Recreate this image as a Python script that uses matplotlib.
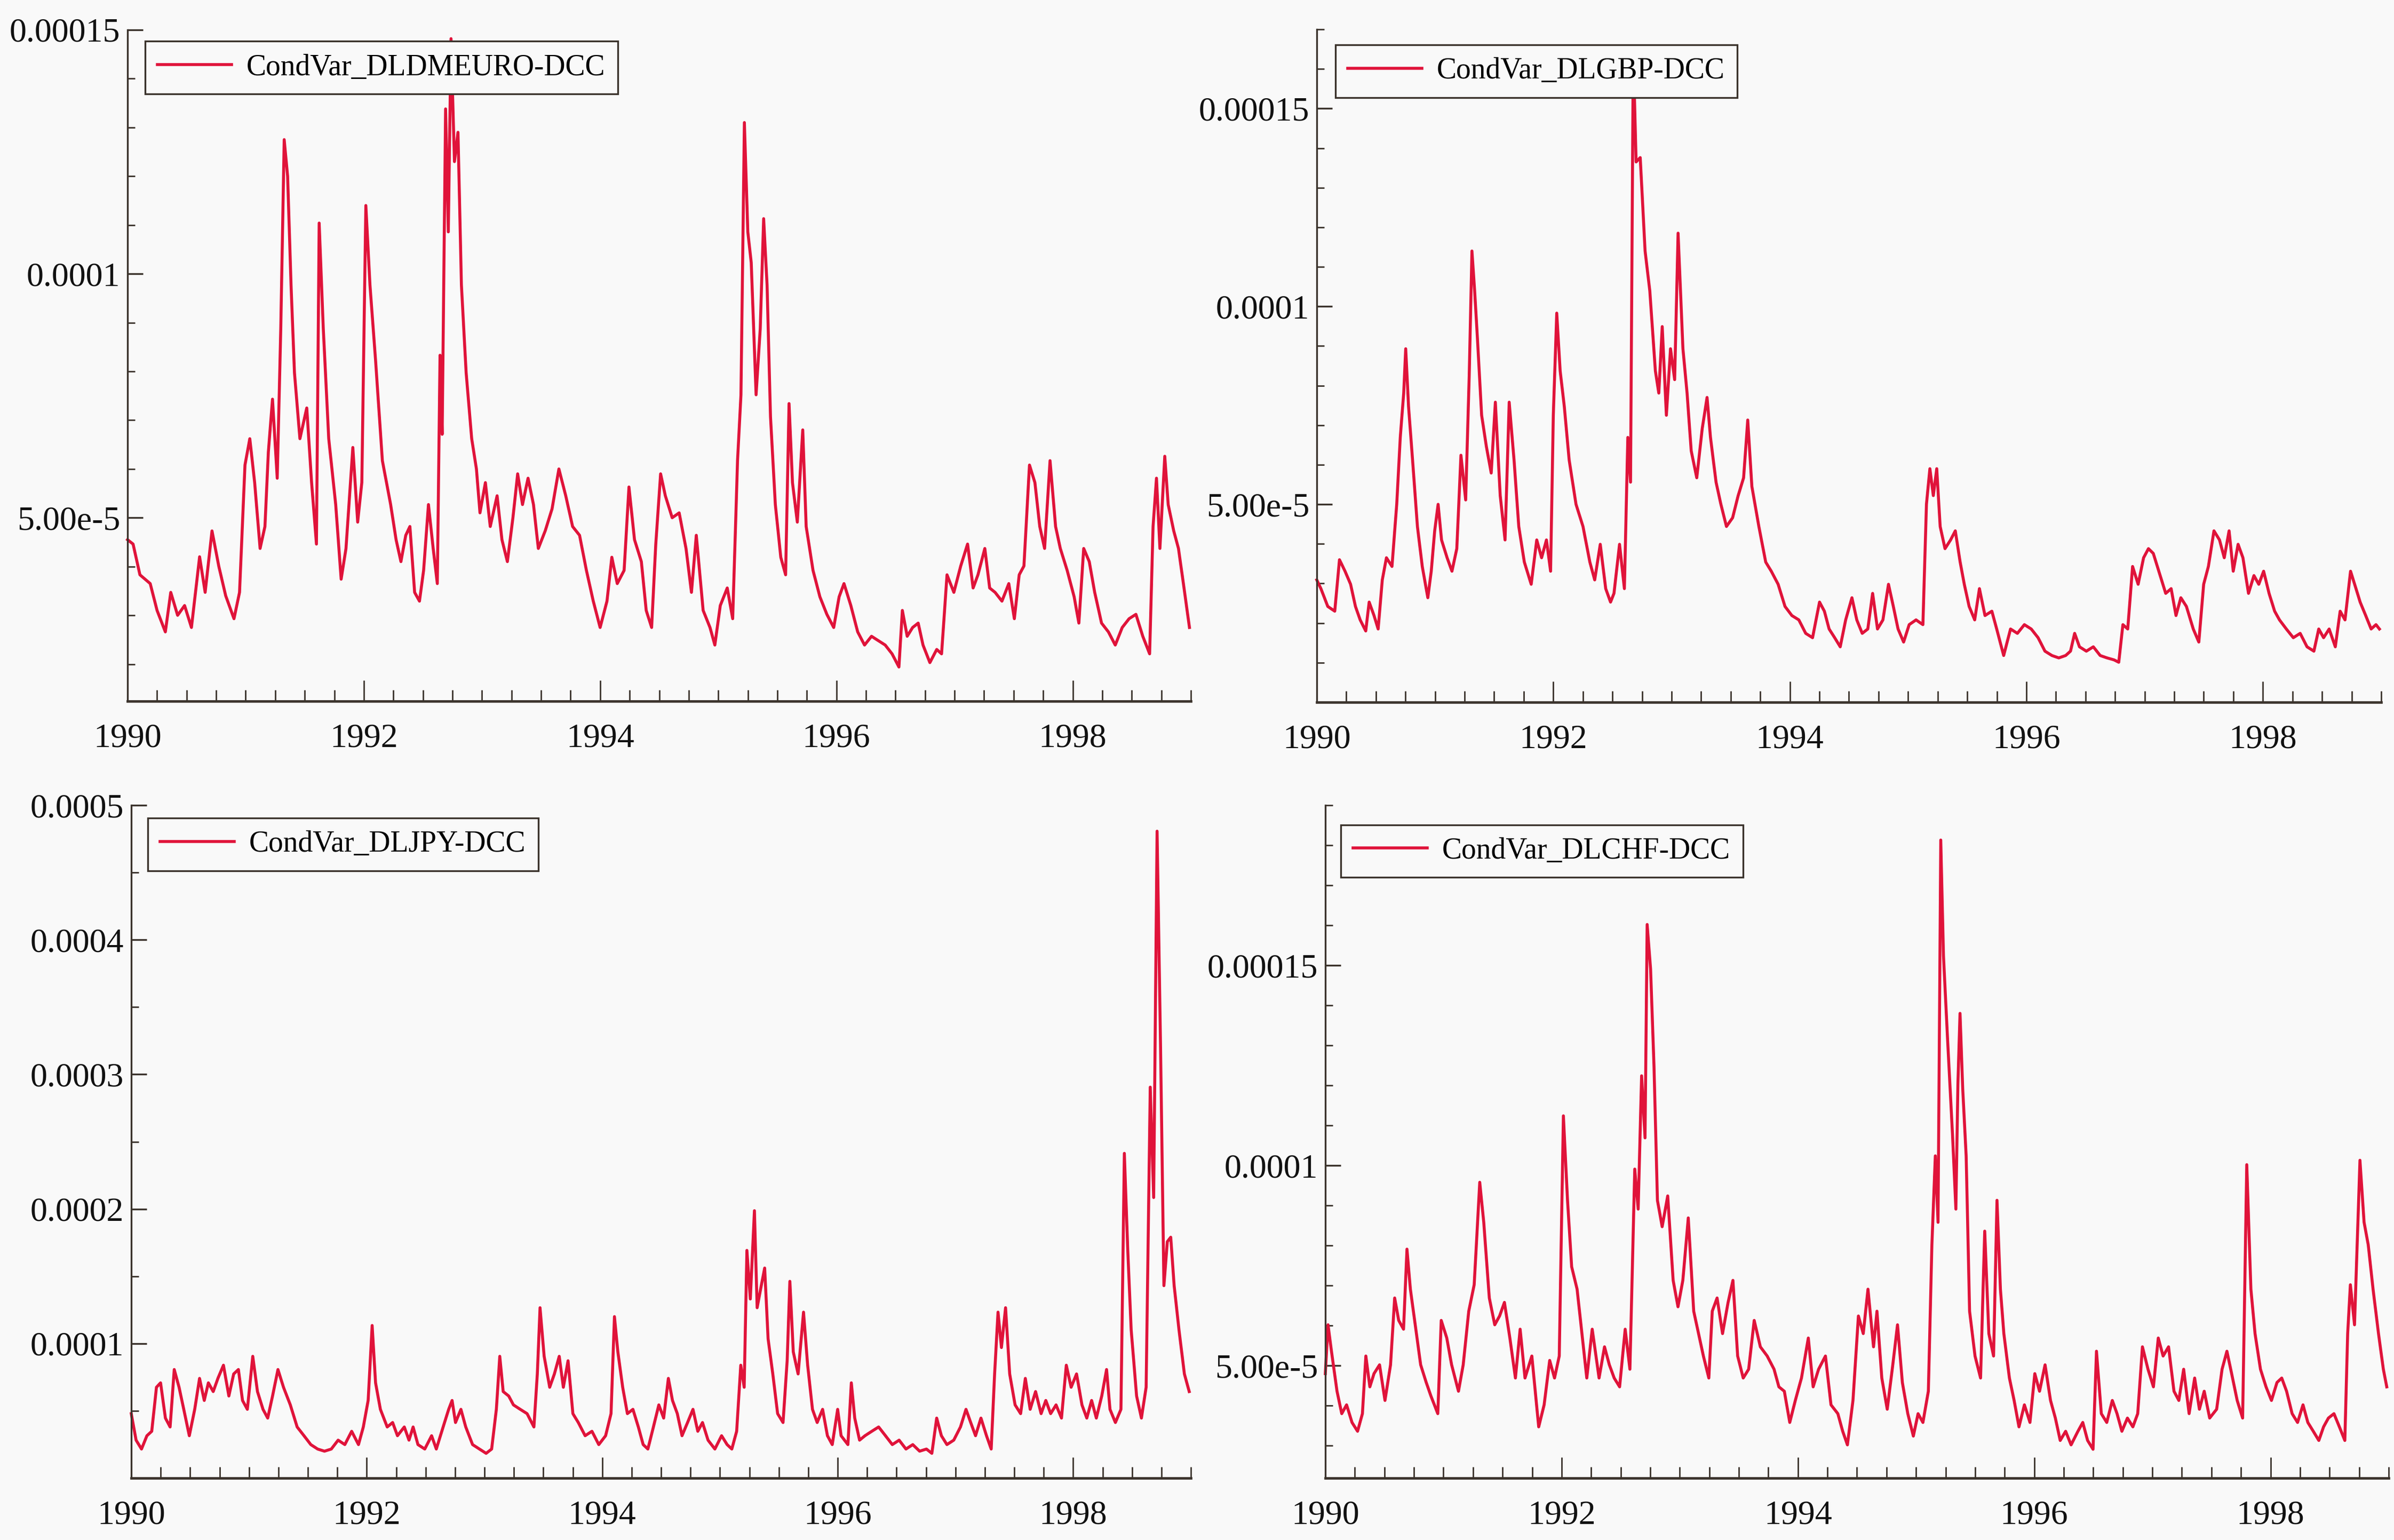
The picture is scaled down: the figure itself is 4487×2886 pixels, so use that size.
import numpy as np
import matplotlib
matplotlib.use("Agg")
import matplotlib.pyplot as plt
from matplotlib.ticker import MultipleLocator

plt.rcParams['font.family'] = ['Liberation Serif', 'DejaVu Serif']

# ---------------- data (time offsets in years from 1990, values in 1e-5) -------------
t_dem = [0.000, 0.047, 0.105, 0.192, 0.250, 0.320, 0.366, 0.424, 0.483, 0.541, 0.610, 0.657, 0.715, 0.773,
         0.831, 0.901, 0.948, 0.994, 1.035, 1.076, 1.122, 1.163, 1.192, 1.227, 1.267, 1.297, 1.326, 1.355,
         1.384, 1.413, 1.459, 1.517, 1.558, 1.599, 1.622, 1.657, 1.703, 1.762, 1.808, 1.849, 1.907, 1.948,
         1.983, 2.017, 2.052, 2.099, 2.157, 2.227, 2.273, 2.314, 2.355, 2.390, 2.430, 2.471, 2.506, 2.547,
         2.587, 2.622, 2.645, 2.663, 2.692, 2.715, 2.738, 2.767, 2.797, 2.826, 2.866, 2.913, 2.953, 2.983,
         3.029, 3.070, 3.128, 3.169, 3.215, 3.262, 3.302, 3.343, 3.390, 3.436, 3.477, 3.535, 3.593, 3.651,
         3.709, 3.767, 3.826, 3.884, 3.942, 4.000, 4.058, 4.099, 4.145, 4.203, 4.244, 4.291, 4.349, 4.390,
         4.436, 4.471, 4.512, 4.552, 4.610, 4.669, 4.727, 4.773, 4.814, 4.872, 4.930, 4.971, 5.017, 5.076,
         5.122, 5.163, 5.192, 5.221, 5.250, 5.279, 5.320, 5.355, 5.384, 5.413, 5.442, 5.483, 5.529, 5.570,
         5.599, 5.628, 5.669, 5.715, 5.744, 5.802, 5.860, 5.919, 5.977, 6.023, 6.064, 6.122, 6.180, 6.238,
         6.297, 6.355, 6.413, 6.471, 6.529, 6.558, 6.599, 6.645, 6.692, 6.733, 6.791, 6.849, 6.890, 6.936,
         6.994, 7.052, 7.110, 7.157, 7.198, 7.256, 7.297, 7.343, 7.401, 7.459, 7.506, 7.547, 7.587, 7.634,
         7.680, 7.721, 7.762, 7.808, 7.855, 7.895, 7.953, 8.012, 8.052, 8.093, 8.140, 8.186, 8.244, 8.302,
         8.360, 8.419, 8.477, 8.535, 8.593, 8.651, 8.680, 8.709, 8.738, 8.779, 8.808, 8.855, 8.895, 8.942,
         8.988]
v_dem = [4.55, 4.46, 3.83, 3.65, 3.10, 2.66, 3.47, 3.00, 3.20, 2.75, 4.20, 3.47, 4.73, 4.00,
         3.40, 2.93, 3.47, 6.08, 6.62, 5.72, 4.37, 4.82, 6.35, 7.43, 5.81, 8.87, 12.75, 12.00,
         9.77, 7.97, 6.62, 7.25, 5.72, 4.46, 11.04, 8.87, 6.62, 5.27, 3.74, 4.37, 6.44, 4.91,
         5.72, 11.40, 9.77, 8.24, 6.17, 5.27, 4.55, 4.10, 4.64, 4.82, 3.47, 3.29, 3.92, 5.27,
         4.37, 3.65, 8.33, 6.71, 13.38, 10.86, 14.82, 12.30, 12.90, 9.77, 7.97, 6.62, 6.00, 5.10,
         5.72, 4.82, 5.45, 4.55, 4.10, 5.00, 5.90, 5.27, 5.81, 5.27, 4.37, 4.73, 5.18, 6.00,
         5.45, 4.82, 4.64, 3.92, 3.29, 2.75, 3.29, 4.19, 3.65, 3.92, 5.63, 4.55, 4.10, 3.10,
         2.75, 4.46, 5.90, 5.45, 5.00, 5.10, 4.37, 3.47, 4.64, 3.10, 2.75, 2.39, 3.20, 3.56,
         2.93, 6.17, 7.52, 13.10, 10.86, 10.23, 7.52, 8.87, 11.13, 9.77, 7.07, 5.27, 4.19, 3.83,
         7.34, 5.72, 4.91, 6.80, 4.82, 3.92, 3.38, 3.02, 2.75, 3.38, 3.65, 3.20, 2.66, 2.39,
         2.57, 2.48, 2.39, 2.21, 1.94, 3.10, 2.57, 2.75, 2.84, 2.39, 2.03, 2.30, 2.21, 3.83,
         3.47, 4.01, 4.46, 3.56, 3.83, 4.37, 3.56, 3.47, 3.29, 3.65, 2.93, 3.83, 4.01, 6.08,
         5.72, 4.82, 4.37, 6.17, 4.82, 4.37, 3.92, 3.38, 2.84, 4.37, 4.10, 3.47, 2.84, 2.66,
         2.39, 2.75, 2.93, 3.02, 2.57, 2.21, 4.82, 5.81, 4.37, 6.26, 5.27, 4.73, 4.37, 3.56,
         2.75]

t_gbp = [0.000, 0.035, 0.093, 0.152, 0.192, 0.239, 0.286, 0.327, 0.367, 0.414, 0.443, 0.484, 0.519, 0.554,
         0.589, 0.636, 0.676, 0.706, 0.735, 0.752, 0.776, 0.810, 0.851, 0.892, 0.939, 0.968, 0.997, 1.026,
         1.055, 1.102, 1.143, 1.184, 1.219, 1.259, 1.289, 1.312, 1.335, 1.359, 1.394, 1.434, 1.475, 1.510,
         1.551, 1.592, 1.627, 1.668, 1.708, 1.755, 1.813, 1.860, 1.901, 1.942, 1.977, 2.000, 2.029, 2.058,
         2.093, 2.134, 2.192, 2.251, 2.309, 2.350, 2.397, 2.443, 2.484, 2.513, 2.560, 2.601, 2.630, 2.653,
         2.676, 2.700, 2.735, 2.776, 2.816, 2.863, 2.892, 2.921, 2.956, 2.991, 3.026, 3.055, 3.096, 3.131,
         3.166, 3.213, 3.259, 3.300, 3.329, 3.376, 3.417, 3.464, 3.516, 3.563, 3.609, 3.644, 3.679, 3.738,
         3.796, 3.843, 3.901, 3.959, 4.017, 4.076, 4.134, 4.192, 4.251, 4.292, 4.332, 4.379, 4.426, 4.472,
         4.525, 4.566, 4.612, 4.659, 4.700, 4.741, 4.787, 4.834, 4.875, 4.915, 4.962, 5.009, 5.067, 5.125,
         5.155, 5.184, 5.213, 5.242, 5.271, 5.312, 5.359, 5.399, 5.440, 5.475, 5.516, 5.563, 5.603, 5.650,
         5.708, 5.749, 5.808, 5.866, 5.924, 5.983, 6.041, 6.099, 6.157, 6.216, 6.274, 6.332, 6.373, 6.408,
         6.449, 6.507, 6.566, 6.624, 6.682, 6.741, 6.781, 6.816, 6.857, 6.898, 6.945, 6.991, 7.032, 7.073,
         7.120, 7.178, 7.224, 7.265, 7.306, 7.353, 7.411, 7.458, 7.499, 7.539, 7.586, 7.633, 7.673, 7.714,
         7.749, 7.790, 7.831, 7.878, 7.924, 7.965, 8.006, 8.052, 8.099, 8.140, 8.198, 8.257, 8.315, 8.373,
         8.431, 8.472, 8.513, 8.560, 8.612, 8.653, 8.694, 8.741, 8.787, 8.822, 8.869, 8.915, 8.956, 8.985]
v_gbp = [3.09, 2.87, 2.42, 2.30, 3.60, 3.31, 2.98, 2.42, 2.08, 1.80, 2.53, 2.19, 1.85, 3.09,
         3.65, 3.43, 5.00, 6.69, 7.81, 8.93, 7.47, 6.12, 4.44, 3.43, 2.64, 3.31, 4.33, 5.00,
         4.10, 3.65, 3.31, 3.88, 6.24, 5.11, 8.26, 11.40, 10.39, 9.16, 7.25, 6.46, 5.79, 7.58,
         5.22, 4.10, 7.58, 6.12, 4.44, 3.54, 2.98, 4.10, 3.65, 4.10, 3.31, 7.25, 9.83, 8.37,
         7.47, 6.12, 5.00, 4.44, 3.54, 3.09, 3.99, 2.87, 2.53, 2.75, 3.99, 2.87, 6.69, 5.56,
         16.46, 13.65, 13.76, 11.40, 10.39, 8.37, 7.81, 9.49, 7.25, 8.93, 8.15, 11.85, 8.93, 7.81,
         6.35, 5.67, 6.91, 7.70, 6.69, 5.56, 5.00, 4.44, 4.66, 5.22, 5.67, 7.13, 5.45, 4.44,
         3.54, 3.31, 2.98, 2.42, 2.19, 2.08, 1.74, 1.63, 2.53, 2.30, 1.85, 1.63, 1.40, 2.08,
         2.64, 2.08, 1.74, 1.85, 2.75, 1.85, 2.08, 2.98, 2.42, 1.85, 1.52, 1.96, 2.08, 1.96,
         5.00, 5.90, 5.22, 5.90, 4.44, 3.88, 4.10, 4.33, 3.54, 2.98, 2.42, 2.08, 2.87, 2.19,
         2.30, 1.85, 1.18, 1.85, 1.74, 1.96, 1.85, 1.63, 1.29, 1.18, 1.12, 1.18, 1.29, 1.74,
         1.40, 1.29, 1.40, 1.18, 1.12, 1.07, 1.01, 1.96, 1.85, 3.43, 2.98, 3.65, 3.88, 3.76,
         3.31, 2.75, 2.87, 2.19, 2.64, 2.42, 1.85, 1.52, 2.98, 3.43, 4.33, 4.10, 3.65, 4.33,
         3.31, 3.99, 3.65, 2.75, 3.20, 2.98, 3.31, 2.75, 2.30, 2.08, 1.85, 1.63, 1.74, 1.40,
         1.29, 1.85, 1.63, 1.85, 1.40, 2.30, 2.08, 3.31, 2.87, 2.53, 2.19, 1.85, 1.96, 1.85]

t_jpy = [0.000, 0.041, 0.087, 0.133, 0.174, 0.214, 0.249, 0.290, 0.330, 0.365, 0.406, 0.446, 0.493, 0.539,
         0.580, 0.620, 0.655, 0.696, 0.736, 0.783, 0.829, 0.870, 0.910, 0.945, 0.986, 1.032, 1.072, 1.119,
         1.159, 1.200, 1.246, 1.293, 1.351, 1.409, 1.467, 1.525, 1.583, 1.641, 1.699, 1.757, 1.814, 1.872,
         1.930, 1.971, 2.012, 2.046, 2.075, 2.116, 2.174, 2.220, 2.261, 2.319, 2.359, 2.394, 2.435, 2.493,
         2.551, 2.591, 2.649, 2.696, 2.725, 2.754, 2.800, 2.841, 2.899, 2.957, 3.014, 3.061, 3.101, 3.130,
         3.159, 3.206, 3.246, 3.304, 3.362, 3.420, 3.449, 3.472, 3.507, 3.554, 3.594, 3.635, 3.670, 3.710,
         3.751, 3.797, 3.855, 3.913, 3.971, 4.029, 4.075, 4.104, 4.133, 4.174, 4.214, 4.261, 4.307, 4.348,
         4.388, 4.435, 4.481, 4.522, 4.562, 4.597, 4.638, 4.678, 4.725, 4.771, 4.812, 4.852, 4.899, 4.957,
         5.014, 5.061, 5.101, 5.142, 5.177, 5.206, 5.229, 5.258, 5.293, 5.316, 5.351, 5.380, 5.409, 5.449,
         5.490, 5.536, 5.571, 5.594, 5.623, 5.664, 5.710, 5.745, 5.786, 5.826, 5.872, 5.913, 5.954, 6.000,
         6.029, 6.087, 6.116, 6.145, 6.186, 6.232, 6.290, 6.348, 6.406, 6.464, 6.522, 6.580, 6.638, 6.696,
         6.754, 6.800, 6.841, 6.881, 6.928, 6.986, 7.043, 7.090, 7.130, 7.171, 7.217, 7.264, 7.304, 7.333,
         7.362, 7.391, 7.426, 7.461, 7.507, 7.554, 7.594, 7.635, 7.681, 7.728, 7.768, 7.809, 7.855, 7.901,
         7.942, 7.983, 8.029, 8.075, 8.116, 8.157, 8.197, 8.243, 8.284, 8.313, 8.359, 8.406, 8.435, 8.464,
         8.493, 8.539, 8.580, 8.620, 8.655, 8.684, 8.713, 8.742, 8.771, 8.800, 8.829, 8.858, 8.899, 8.945,
         8.986]
v_jpy = [4.79, 2.82, 2.16, 3.15, 3.48, 6.75, 7.08, 4.46, 3.80, 8.07, 6.75, 5.11, 3.15, 5.11,
         7.41, 5.77, 7.08, 6.43, 7.41, 8.39, 6.10, 7.74, 8.07, 5.77, 5.11, 9.05, 6.43, 5.11,
         4.46, 6.10, 8.07, 6.75, 5.44, 3.80, 3.15, 2.49, 2.16, 2.00, 2.16, 2.82, 2.49, 3.48,
         2.49, 3.80, 5.77, 11.34, 7.08, 5.11, 3.80, 4.13, 3.15, 3.80, 2.82, 3.80, 2.49, 2.16,
         3.15, 2.16, 3.80, 5.11, 5.77, 4.13, 5.11, 3.80, 2.49, 2.16, 1.84, 2.16, 5.11, 9.05,
         6.43, 6.10, 5.44, 5.11, 4.79, 3.80, 7.74, 12.66, 9.05, 6.75, 7.74, 9.05, 6.75, 8.72,
         4.79, 4.13, 3.15, 3.48, 2.49, 3.15, 4.79, 12.00, 9.38, 6.75, 4.79, 5.11, 3.80, 2.49,
         2.16, 3.80, 5.44, 4.46, 7.41, 5.77, 4.79, 3.15, 4.13, 5.11, 3.48, 4.13, 2.82, 2.16,
         3.15, 2.49, 2.16, 3.48, 8.39, 6.75, 16.92, 13.31, 19.87, 12.66, 14.30, 15.61, 10.36, 7.74,
         4.79, 4.13, 8.72, 14.62, 9.38, 7.74, 12.33, 8.39, 5.11, 4.13, 5.11, 3.15, 2.49, 5.11,
         3.15, 2.49, 7.08, 4.46, 2.82, 3.15, 3.48, 3.80, 3.15, 2.49, 2.82, 2.16, 2.49, 2.00,
         2.16, 1.84, 4.46, 3.15, 2.49, 2.82, 3.80, 5.11, 4.13, 3.15, 4.46, 3.15, 2.16, 7.74,
         12.33, 9.70, 12.66, 7.74, 5.44, 4.79, 7.41, 5.11, 6.43, 4.79, 5.77, 4.79, 5.44, 4.46,
         8.39, 6.75, 7.74, 5.44, 4.46, 5.77, 4.46, 6.10, 8.07, 5.11, 4.13, 5.11, 24.13, 16.92,
         11.02, 6.10, 4.46, 6.75, 29.05, 20.85, 48.07, 32.33, 14.30, 17.57, 17.90, 14.30, 11.02, 7.74,
         6.43]

t_chf = [0.000, 0.023, 0.052, 0.099, 0.139, 0.180, 0.226, 0.273, 0.314, 0.343, 0.377, 0.412, 0.459, 0.505,
         0.552, 0.587, 0.621, 0.662, 0.691, 0.720, 0.761, 0.807, 0.854, 0.894, 0.952, 0.981, 1.028, 1.069,
         1.127, 1.167, 1.214, 1.260, 1.307, 1.341, 1.388, 1.434, 1.475, 1.516, 1.562, 1.609, 1.649, 1.690,
         1.748, 1.806, 1.852, 1.899, 1.940, 1.980, 2.015, 2.050, 2.085, 2.131, 2.172, 2.213, 2.259, 2.317,
         2.363, 2.404, 2.445, 2.491, 2.538, 2.578, 2.619, 2.648, 2.677, 2.706, 2.724, 2.753, 2.782, 2.811,
         2.851, 2.898, 2.944, 2.985, 3.026, 3.072, 3.118, 3.159, 3.200, 3.246, 3.275, 3.316, 3.362, 3.409,
         3.450, 3.490, 3.537, 3.583, 3.630, 3.682, 3.740, 3.798, 3.839, 3.885, 3.931, 3.978, 4.030, 4.088,
         4.129, 4.175, 4.233, 4.280, 4.338, 4.379, 4.419, 4.466, 4.512, 4.553, 4.593, 4.640, 4.669, 4.710,
         4.756, 4.803, 4.843, 4.884, 4.930, 4.977, 5.017, 5.058, 5.104, 5.134, 5.163, 5.186, 5.209, 5.232,
         5.267, 5.308, 5.337, 5.354, 5.372, 5.395, 5.424, 5.453, 5.499, 5.546, 5.581, 5.616, 5.656, 5.685,
         5.714, 5.743, 5.790, 5.830, 5.871, 5.917, 5.964, 6.005, 6.045, 6.092, 6.138, 6.179, 6.220, 6.266,
         6.312, 6.370, 6.411, 6.452, 6.498, 6.527, 6.568, 6.614, 6.661, 6.701, 6.742, 6.789, 6.835, 6.876,
         6.916, 6.963, 7.009, 7.050, 7.091, 7.137, 7.183, 7.224, 7.265, 7.311, 7.358, 7.398, 7.439, 7.485,
         7.544, 7.590, 7.631, 7.671, 7.718, 7.764, 7.799, 7.834, 7.869, 7.915, 7.962, 8.008, 8.055, 8.095,
         8.136, 8.183, 8.229, 8.275, 8.316, 8.362, 8.409, 8.449, 8.490, 8.537, 8.583, 8.629, 8.653, 8.676,
         8.711, 8.757, 8.792, 8.827, 8.868, 8.914, 8.955, 8.984]
v_chf = [4.80, 6.02, 5.36, 4.36, 3.80, 4.02, 3.58, 3.36, 3.80, 5.24, 4.47, 4.80, 5.02, 4.13,
         5.02, 6.69, 6.13, 5.91, 7.91, 6.91, 6.02, 5.02, 4.58, 4.24, 3.80, 6.13, 5.69, 5.02,
         4.36, 5.02, 6.36, 7.02, 9.58, 8.58, 6.69, 6.02, 6.24, 6.58, 5.69, 4.69, 5.91, 4.69,
         5.24, 3.47, 4.02, 5.13, 4.69, 5.24, 11.24, 9.13, 7.47, 6.91, 5.80, 4.69, 5.91, 4.69,
         5.47, 5.02, 4.69, 4.47, 5.91, 4.91, 9.91, 8.91, 12.24, 10.69, 16.02, 14.91, 12.47, 9.13,
         8.47, 9.24, 7.13, 6.47, 7.13, 8.69, 6.36, 5.80, 5.24, 4.69, 6.36, 6.69, 5.80, 6.58,
         7.13, 5.24, 4.69, 4.91, 6.13, 5.47, 5.24, 4.91, 4.47, 4.36, 3.58, 4.13, 4.69, 5.69,
         4.47, 4.91, 5.24, 4.02, 3.80, 3.36, 3.02, 4.13, 6.24, 5.80, 6.91, 5.47, 6.36, 4.69,
         3.91, 5.02, 6.02, 4.58, 3.80, 3.24, 3.80, 3.58, 4.36, 8.02, 10.24, 8.58, 18.13, 15.24,
         13.13, 10.80, 8.91, 12.02, 13.80, 11.91, 10.24, 6.36, 5.24, 4.69, 8.36, 5.80, 5.24, 9.13,
         6.91, 5.80, 4.69, 4.13, 3.47, 4.02, 3.58, 4.80, 4.36, 5.02, 4.13, 3.69, 3.13, 3.36,
         3.02, 3.36, 3.58, 3.13, 2.91, 5.36, 3.80, 3.58, 4.13, 3.80, 3.36, 3.69, 3.47, 3.80,
         5.47, 4.91, 4.47, 5.69, 5.24, 5.47, 4.36, 4.13, 4.91, 3.80, 4.69, 3.91, 4.36, 3.69,
         3.91, 4.91, 5.36, 4.80, 4.13, 3.69, 10.02, 6.91, 5.80, 4.91, 4.47, 4.13, 4.58, 4.69,
         4.36, 3.80, 3.58, 4.02, 3.58, 3.36, 3.13, 3.47, 3.69, 3.80, 3.47, 3.13, 5.80, 7.02,
         6.02, 10.13, 8.58, 8.02, 6.91, 5.80, 4.91, 4.47]

series_names = ["CondVar_DLDMEURO-DCC", "CondVar_DLGBP-DCC", "CondVar_DLJPY-DCC", "CondVar_DLCHF-DCC"]
x_major = [1990, 1992, 1994, 1996, 1998]
x_labels = ["1990", "1992", "1994", "1996", "1998"]
y_ticks = [[5e-5, 1e-4, 1.5e-4], [5e-5, 1e-4, 1.5e-4],
           [1e-4, 2e-4, 3e-4, 4e-4, 5e-4], [5e-5, 1e-4, 1.5e-4]]
y_labels = [["5.00e-5", "0.0001", "0.00015"], ["5.00e-5", "0.0001", "0.00015"],
            ["0.0001", "0.0002", "0.0003", "0.0004", "0.0005"], ["5.00e-5", "0.0001", "0.00015"]]

# ---------------- style / layout -------------
W, H = 4487, 2886
BG = "#f9f9f9"
RED = "#e0133a"
AXC = "#3b332c"

rects = [[0.05327, 0.54470, 0.44417, 0.43590],
         [0.55003, 0.54401, 0.44462, 0.43694],
         [0.05483, 0.04019, 0.44261, 0.43694],
         [0.55360, 0.04019, 0.44417, 0.43694]]
ylims = [(1.24e-5, 1.5e-4), (0.0, 1.7e-4), (0.0, 5.0e-4), (2.19e-5, 1.9e-4)]
yminor = [1e-5, 1e-5, 5e-5, 1e-5]
leg_anchor = [(0.0166, 0.983), (0.0175, 0.977), (0.0156, 0.981), (0.0146, 0.971)]

fig = plt.figure(figsize=(W / 100, H / 100), dpi=100, facecolor=BG)

data = [(t_dem, v_dem), (t_gbp, v_gbp), (t_jpy, v_jpy), (t_chf, v_chf)]
for i, (tt, vv) in enumerate(data):
    ax = fig.add_axes(rects[i])
    ax.set_facecolor(BG)
    t = 1990 + np.asarray(tt)
    v = np.asarray(vv) * 1e-5
    ax.plot(t, v, color=RED, lw=4.0, label=series_names[i], clip_on=False)
    ax.set_xlim(1990, 1999)
    ax.set_ylim(*ylims[i])
    ax.set_xticks(x_major)
    ax.set_xticklabels(x_labels)
    ax.xaxis.set_minor_locator(MultipleLocator(0.25))
    ax.set_yticks(y_ticks[i])
    ax.set_yticklabels(y_labels[i])
    ax.yaxis.set_minor_locator(MultipleLocator(yminor[i]))
    for s in ("top", "right"):
        ax.spines[s].set_visible(False)
    ax.spines["left"].set_linewidth(2.4)
    ax.spines["left"].set_color(AXC)
    ax.spines["bottom"].set_linewidth(3.4)
    ax.spines["bottom"].set_color(AXC)
    ax.tick_params(axis='x', which='major', direction='in', length=28, width=2, color=AXC,
                   labelsize=46, pad=30, labelcolor="#111111")
    ax.tick_params(axis='x', which='minor', direction='in', length=15, width=2, color=AXC)
    ax.tick_params(axis='y', which='major', direction='in', length=21, width=2.4, color=AXC,
                   labelsize=46, pad=10, labelcolor="#111111")
    ax.tick_params(axis='y', which='minor', direction='in', length=10, width=2, color=AXC)
    leg = ax.legend(loc='upper left', bbox_to_anchor=leg_anchor[i], borderaxespad=0,
                    fancybox=False, frameon=True, edgecolor=AXC, facecolor=BG, framealpha=1,
                    fontsize=40, handlelength=2.5, handletextpad=0.5, borderpad=0.42)
    leg.get_frame().set_linewidth(2.4)

fig.savefig("out.png", dpi=100, facecolor=BG)
